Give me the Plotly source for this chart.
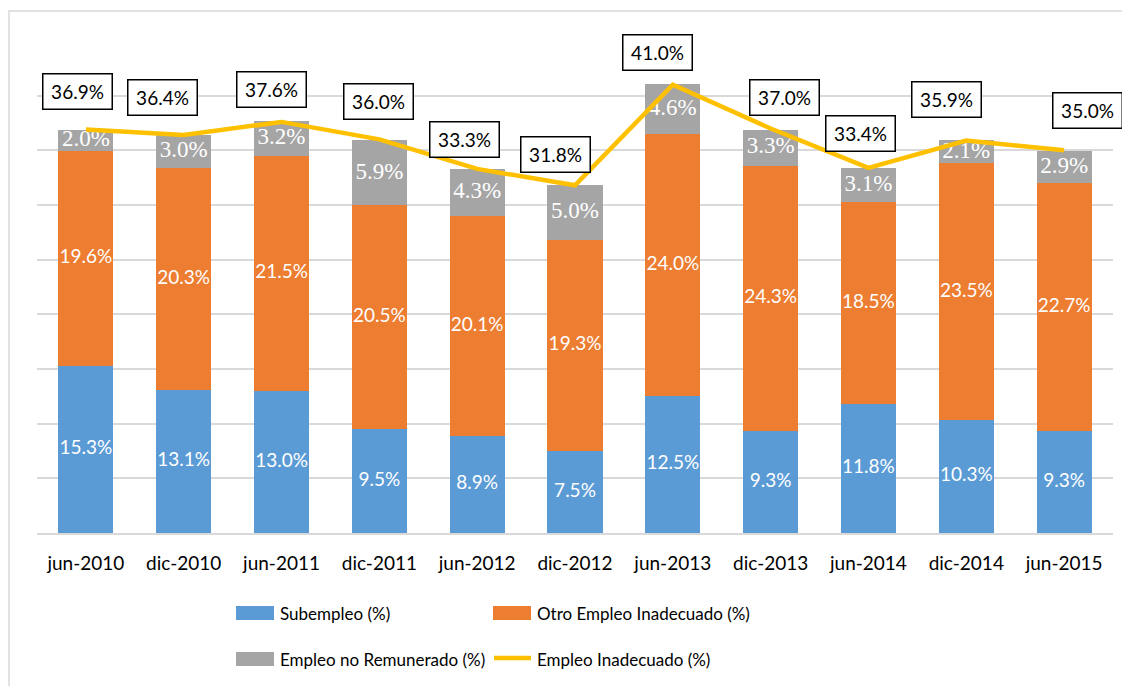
import numpy as np
import plotly.graph_objects as go

categories = ["jun-2010", "dic-2010", "jun-2011", "dic-2011", "jun-2012", "dic-2012",
              "jun-2013", "dic-2013", "jun-2014", "dic-2014", "jun-2015"]
subempleo = [15.3, 13.1, 13.0, 9.5, 8.9, 7.5, 12.5, 9.3, 11.8, 10.3, 9.3]
otro_inadecuado = [19.6, 20.3, 21.5, 20.5, 20.1, 19.3, 24.0, 24.3, 18.5, 23.5, 22.7]
no_remunerado = [2.0, 3.0, 3.2, 5.9, 4.3, 5.0, 4.6, 3.3, 3.1, 2.1, 2.9]
empleo_inadecuado = [36.9, 36.4, 37.6, 36.0, 33.3, 31.8, 41.0, 37.0, 33.4, 35.9, 35.0]

names = ["Subempleo (%)", "Otro Empleo Inadecuado (%)",
         "Empleo no Remunerado (%)", "Empleo Inadecuado (%)"]
colors = ["#5B9BD5", "#ED7D31", "#A5A5A5", "#FFC000"]

# pixel offsets of the line-value boxes (dx, dy up) relative to their points
label_dx = [-8, -21, -10, -1, -13, -20, -15, 14, -8, -20, 23]
label_dy = [38, 38, 32, 38, 29, 31, 32, 31, 34, 41, 40]

OFF = 8  # page body margin
W, H = 1130 - OFF, 686 - OFF
# plot area in page pixels: x 37..1113, y 41..533
ML = 37 - OFF
MT = 41 - OFF
MR = W - (1113 - OFF)
MB = H - (533 - OFF)
PW, PH = W - ML - MR, H - MT - MB

fig = go.Figure()
series = [subempleo, otro_inadecuado, no_remunerado]
for vals, name, col in zip(series, names[:3], colors[:3]):
    fig.add_trace(go.Bar(x=categories, y=vals, name=name, marker_color=col,
                         marker_line_width=0, showlegend=False))

# segment labels at segment centres
s = np.array(subempleo)
o = np.array(otro_inadecuado)
n = np.array(no_remunerado)
mids = [s / 2, s + o / 2, s + o + n / 2]
fonts = [dict(family="Lato", size=19, color="white"),
         dict(family="Lato", size=19, color="white"),
         dict(family="Liberation Serif", size=23, color="white")]
for vals, m, f in zip(series, mids, fonts):
    fig.add_trace(go.Scatter(x=categories, y=m, mode="text",
                             text=[f"{v:.1f}%" for v in vals],
                             textposition="middle center", textfont=f,
                             showlegend=False, hoverinfo="skip"))

fig.add_trace(go.Scatter(x=categories, y=empleo_inadecuado, mode="lines",
                         name=names[3], line=dict(color=colors[3], width=4.5),
                         showlegend=False))

for c, v, dx, dy in zip(categories, empleo_inadecuado, label_dx, label_dy):
    fig.add_annotation(x=c, y=v, xref="x", yref="y", text=f"{v:.1f}%",
                       showarrow=False, xshift=dx, yshift=dy,
                       font=dict(family="Lato", size=19, color="black"),
                       bgcolor="white", bordercolor="black", borderwidth=1.5,
                       borderpad=6, width=56, height=22)

def px_x(p):
    return (p - OFF - ML) / PW

def px_y(p):
    return (H - MB - (p - OFF)) / PH

shapes = []
# outer chart border
shapes.append(dict(type="rect", xref="paper", yref="paper",
                   x0=px_x(9), x1=px_x(1160), y0=px_y(720), y1=px_y(11),
                   line=dict(color="#D9D9D9", width=1.5), fillcolor="rgba(0,0,0,0)",
                   layer="below"))

# custom legend
legend_items = [(236, 613, 0), (493, 613, 1), (236, 659, 2), (493, 659, 3)]
for lx, ly, idx in legend_items:
    if idx < 3:
        shapes.append(dict(type="rect", xref="paper", yref="paper",
                           x0=px_x(lx), x1=px_x(lx + 38), y0=px_y(ly + 7), y1=px_y(ly - 7),
                           fillcolor=colors[idx], line=dict(width=0)))
    else:
        shapes.append(dict(type="line", xref="paper", yref="paper",
                           x0=px_x(lx + 1), x1=px_x(lx + 38), y0=px_y(ly - 1), y1=px_y(ly - 1),
                           line=dict(color=colors[idx], width=4.5)))
    fig.add_annotation(x=px_x(lx + 42), y=px_y(ly), xref="paper", yref="paper",
                       text=names[idx], showarrow=False, xanchor="left", yanchor="middle",
                       font=dict(family="Lato", size=17, color="black"))

fig.update_layout(
    width=W, height=H,
    margin=dict(l=ML, r=MR, t=MT, b=MB),
    barmode="stack", bargap=0.437,
    plot_bgcolor="white", paper_bgcolor="white",
    font=dict(family="Lato", size=19, color="black"),
    shapes=shapes,
    xaxis=dict(range=[-0.5, len(categories) - 0.5], autorange=False,
               showgrid=False, showline=True, linecolor="#D9D9D9", linewidth=1.5,
               ticks="", tickfont=dict(family="Lato", size=19, color="black"),
               ticklabelstandoff=12, fixedrange=True),
    yaxis=dict(range=[0, 45], dtick=5, showticklabels=False, showgrid=True,
               gridcolor="#D9D9D9", gridwidth=1.5, zeroline=False, showline=False,
               fixedrange=True),
)

fig.write_html("out.html")
